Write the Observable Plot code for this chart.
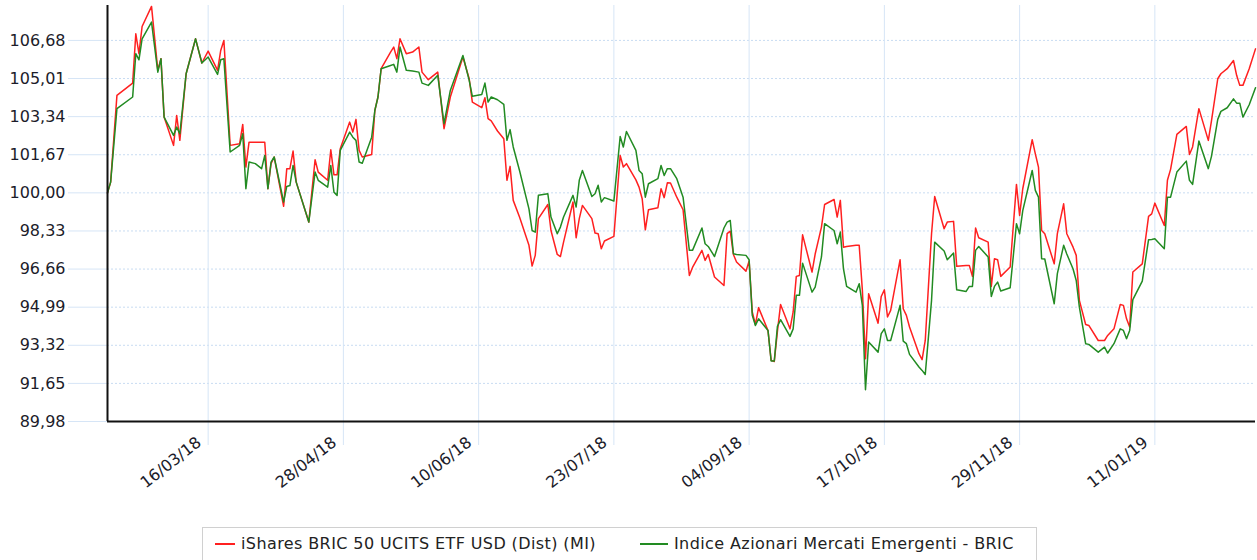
<!DOCTYPE html>
<html><head><meta charset="utf-8">
<script src="https://cdn.jsdelivr.net/npm/d3@7"></script>
<script src="https://cdn.jsdelivr.net/npm/@observablehq/plot@0.6"></script>
<style>
body{margin:0;background:#fff;font-family:"DejaVu Sans",sans-serif;}
#chart{position:absolute;left:0;top:0;}
#legend{position:absolute;left:202px;top:527px;width:835px;height:40px;border:1px solid #d0d0d0;box-sizing:border-box;background:#fff;font-size:16px;letter-spacing:0.4px;color:#222;}
.item{position:absolute;top:6px;white-space:nowrap;}
.sw{display:inline-block;width:20px;height:2px;vertical-align:middle;margin-right:6px;position:relative;top:-1px;}
</style></head>
<body>
<div id="chart"></div>
<div id="legend">
  <span class="item" style="left:12px"><span class="sw"></span><span id="n1"></span></span>
  <span class="item" style="left:437px"><span class="sw" style="width:28px"></span><span id="n2"></span></span>
</div>
<script>
const seriesNames = ["iShares BRIC 50 UCITS ETF USD (Dist) (MI)", "Indice Azionari Mercati Emergenti - BRIC"];
const seriesColors = ["#ff2020", "#228b22"];

const dates = [
"2018-02-12","2018-02-13","2018-02-15","2018-02-20","2018-02-21","2018-02-22","2018-02-23","2018-02-26","2018-02-28","2018-03-01",
"2018-03-02","2018-03-05","2018-03-06","2018-03-07","2018-03-09","2018-03-12","2018-03-14","2018-03-16","2018-03-19","2018-03-20",
"2018-03-21","2018-03-23","2018-03-26","2018-03-27","2018-03-28","2018-03-29","2018-03-31","2018-04-02","2018-04-03","2018-04-04",
"2018-04-05","2018-04-06","2018-04-09","2018-04-10","2018-04-11","2018-04-12","2018-04-13","2018-04-17","2018-04-19","2018-04-20",
"2018-04-23","2018-04-24","2018-04-25","2018-04-26","2018-04-27","2018-04-30","2018-05-01","2018-05-02","2018-05-03","2018-05-04",
"2018-05-07","2018-05-08","2018-05-09","2018-05-10","2018-05-13",
"2018-05-14","2018-05-15","2018-05-16","2018-05-18","2018-05-20","2018-05-22","2018-05-23","2018-05-25","2018-05-28","2018-05-30",
"2018-06-01","2018-06-05","2018-06-07","2018-06-08","2018-06-11","2018-06-12","2018-06-13","2018-06-14","2018-06-16","2018-06-18",
"2018-06-19","2018-06-20","2018-06-21","2018-06-23","2018-06-26","2018-06-27","2018-06-28","2018-06-29","2018-07-02","2018-07-03",
"2018-07-05","2018-07-06","2018-07-07","2018-07-10","2018-07-11","2018-07-12","2018-07-13","2018-07-16","2018-07-17","2018-07-18",
"2018-07-19","2018-07-20","2018-07-23","2018-07-25","2018-07-26","2018-07-27","2018-07-30","2018-07-31","2018-08-01","2018-08-02",
"2018-08-03","2018-08-06","2018-08-07","2018-08-08","2018-08-09","2018-08-10","2018-08-12",
"2018-08-14","2018-08-16","2018-08-17","2018-08-20","2018-08-21","2018-08-22","2018-08-24","2018-08-27","2018-08-28","2018-08-29",
"2018-08-30","2018-08-31","2018-09-03","2018-09-04","2018-09-05","2018-09-06","2018-09-07","2018-09-10","2018-09-11","2018-09-12",
"2018-09-13","2018-09-14","2018-09-17","2018-09-18","2018-09-19","2018-09-20","2018-09-21","2018-09-24","2018-09-25","2018-09-27",
"2018-09-28","2018-10-01","2018-10-02","2018-10-03","2018-10-04","2018-10-05","2018-10-08","2018-10-09","2018-10-10","2018-10-11",
"2018-10-12","2018-10-15","2018-10-16","2018-10-17","2018-10-18","2018-10-19","2018-10-22","2018-10-23","2018-10-24","2018-10-25",
"2018-10-28","2018-10-29","2018-10-30","2018-11-01","2018-11-02","2018-11-05","2018-11-06","2018-11-08","2018-11-09","2018-11-12",
"2018-11-13","2018-11-14","2018-11-15","2018-11-16","2018-11-19","2018-11-20","2018-11-21","2018-11-22","2018-11-23","2018-11-26",
"2018-11-28","2018-11-29","2018-11-30","2018-12-03","2018-12-04","2018-12-05","2018-12-06","2018-12-07","2018-12-10","2018-12-11",
"2018-12-13","2018-12-14","2018-12-16","2018-12-17","2018-12-18","2018-12-20","2018-12-21","2018-12-24","2018-12-26","2018-12-27",
"2018-12-29","2018-12-31","2019-01-01","2019-01-02","2019-01-03","2019-01-04","2019-01-07","2019-01-09","2019-01-10","2019-01-11",
"2019-01-14","2019-01-15","2019-01-16","2019-01-18","2019-01-21","2019-01-22","2019-01-23","2019-01-25","2019-01-28","2019-01-29",
"2019-01-31","2019-02-01","2019-02-03","2019-02-05","2019-02-06","2019-02-07","2019-02-08","2019-02-10","2019-02-12"
];

const ishares = [
100.00,100.47,104.27,104.81,106.97,106.10,107.29,108.17,105.37,105.88,
103.32,102.08,103.39,102.30,105.22,106.75,105.69,106.21,105.37,106.24,
106.68,102.08,102.15,103.00,101.13,102.22,102.22,102.22,102.22,100.18,
101.28,101.57,99.41,101.06,101.06,101.83,100.47,98.72,101.45,100.91,
100.55,101.89,100.79,100.79,101.93,103.10,102.66,103.22,101.86,101.57,
101.68,103.61,104.20,105.44,106.17,
106.39,105.88,106.75,106.10,106.17,106.39,105.29,104.96,105.29,102.81,
104.20,105.95,105.00,103.98,103.73,104.17,103.25,103.15,102.71,102.37,
100.55,101.16,99.67,98.94,97.70,96.79,97.26,98.87,99.49,98.35,
97.30,97.21,97.84,99.60,98.03,98.87,99.45,98.87,98.24,98.21,
97.55,97.89,98.09,101.64,101.13,101.28,100.57,100.25,99.74,98.38,
99.26,99.35,100.18,99.79,100.44,100.43,99.81,
99.26,96.38,96.73,97.48,97.04,97.30,96.31,95.94,98.21,98.32,
97.30,96.97,96.57,97.01,94.78,94.23,94.97,93.97,92.66,92.61,
93.93,95.11,94.04,94.78,96.34,96.38,98.16,96.53,97.32,98.50,
99.49,99.71,98.94,99.67,97.62,97.65,97.70,97.70,95.75,92.73,
95.58,94.29,95.46,95.75,94.56,94.85,97.07,94.92,94.63,94.12,
92.95,92.69,93.53,98.21,99.84,98.43,98.72,98.75,96.78,96.82,
96.82,96.34,98.46,98.03,97.84,95.90,97.11,97.07,96.34,96.75,
100.37,99.01,100.18,102.33,101.71,101.13,98.35,98.21,96.89,98.21,
99.52,98.21,97.62,97.26,95.29,94.23,94.19,93.53,93.53,93.75,
94.04,95.11,95.07,94.48,94.12,96.53,96.89,98.97,99.08,99.55,
98.57,100.55,101.03,102.56,102.91,101.68,102.01,103.69,102.30,103.15,
105.00,105.22,105.44,105.80,105.15,104.71,104.71,105.44,106.31
];

const indice = [
100.00,100.47,103.69,104.20,106.10,105.83,106.75,107.48,105.29,105.88,
103.32,102.52,102.88,102.59,105.22,106.75,105.69,105.95,105.19,105.83,
105.88,101.79,102.08,102.59,100.18,101.35,101.28,101.06,101.64,100.18,
101.35,101.57,99.60,100.28,100.32,101.20,100.47,98.72,100.91,100.55,
100.25,101.20,100.03,99.89,101.86,102.66,102.44,102.30,101.35,101.30,
102.44,103.61,104.20,105.44,105.58,
105.63,105.29,106.39,105.37,105.34,105.29,104.81,104.71,105.15,103.03,
104.49,106.02,104.93,104.23,104.31,104.81,103.98,104.20,104.08,103.88,
102.30,102.77,102.01,100.98,99.30,98.35,98.28,99.89,99.96,98.94,
98.21,98.50,98.94,99.89,99.38,100.55,100.98,99.84,99.96,100.33,
99.60,99.79,99.64,102.47,102.01,102.69,101.86,100.98,100.84,99.81,
100.40,100.62,101.20,100.76,101.06,101.06,100.62,
99.81,97.48,97.48,98.46,97.77,97.65,97.21,98.46,98.72,98.79,
97.33,97.30,97.26,97.07,94.63,94.19,94.48,93.97,92.63,92.63,
94.15,94.44,93.71,94.04,95.51,95.51,96.92,95.65,95.87,97.19,
98.65,98.35,97.77,98.28,96.67,95.90,95.65,96.02,95.07,91.37,
93.46,93.02,93.83,94.04,93.53,93.53,95.07,93.50,93.39,92.92,
92.37,92.22,92.04,95.29,97.84,97.45,97.07,97.36,95.75,95.68,
95.90,95.90,97.48,97.65,97.19,95.46,95.90,96.09,95.70,95.84,
98.65,98.21,99.22,100.98,100.11,99.81,97.11,97.10,95.14,96.46,
97.70,97.32,96.66,96.16,94.99,93.39,93.36,93.02,93.24,92.98,
93.39,94.04,93.97,93.61,93.97,95.32,96.13,97.95,97.96,97.99,
97.55,99.81,99.81,100.91,101.39,100.55,100.37,102.27,101.06,101.60,
103.22,103.57,103.73,104.12,103.93,103.93,103.32,103.86,104.61
];

const yTicks = [89.98, 91.65, 93.32, 94.99, 96.66, 98.33, 100.00, 101.67, 103.34, 105.01, 106.68];
const xTickLabels = ["2018-03-16","2018-04-28","2018-06-10","2018-07-23","2018-09-04","2018-10-17","2018-11-29","2019-01-11"];
const xDomain = ["2018-02-12","2019-02-12"];
const yDomain = [89.98, 108.21];

document.getElementById("n1").textContent = seriesNames[0];
document.getElementById("n2").textContent = seriesNames[1];
document.querySelectorAll(".sw")[0].style.background = seriesColors[0];
document.querySelectorAll(".sw")[1].style.background = seriesColors[1];

const parse = d3.utcParse("%Y-%m-%d");
const data = dates.map((d, i) => ({date: parse(d), a: ishares[i], b: indice[i]}));
const xTicks = xTickLabels.map(parse);
const fmtX = d3.utcFormat("%d/%m/%y");
const fmtY = v => v.toFixed(2).replace(".", ",");

const chart = Plot.plot({
  width: 1257,
  height: 500,
  marginLeft: 107,
  marginRight: 2,
  marginTop: 5,
  marginBottom: 79,
  style: {fontFamily: '"DejaVu Sans",sans-serif', fontSize: "16px", color: "#222", background: "#fff"},
  x: {type: "utc", domain: xDomain.map(parse)},
  y: {domain: yDomain},
  marks: [
    Plot.gridY(yTicks, {stroke: "#c9dcf2", strokeOpacity: 1, strokeDasharray: "2,2"}),
    Plot.gridX(xTicks, {stroke: "#d6e5f6", strokeOpacity: 1}),
    Plot.axisY(yTicks, {tickSize: 39, tickPadding: 3, stroke: "#d6e5f6", fill: "#1c1c2a", tickFormat: fmtY, label: null, fontSize: 16}),
    Plot.axisX(xTicks, {tickSize: 24, stroke: "#d6e5f6", tickFormat: () => "", label: null}),
    Plot.axisX(xTicks, {tickSize: 0, tickPadding: 19, dx: -9, tickRotate: -38, fill: "#1c1c2a", tickFormat: fmtX, label: null, fontSize: 16}),
    Plot.line(data, {x: "date", y: "a", stroke: seriesColors[0], strokeWidth: 1.5}),
    Plot.line(data, {x: "date", y: "b", stroke: seriesColors[1], strokeWidth: 1.5}),
    Plot.ruleX([parse(xDomain[0])], {stroke: "#111", strokeWidth: 2}),
    Plot.ruleY([yDomain[0]], {stroke: "#111", strokeWidth: 2})
  ]
});
document.getElementById("chart").appendChild(chart);
</script>
</body></html>
